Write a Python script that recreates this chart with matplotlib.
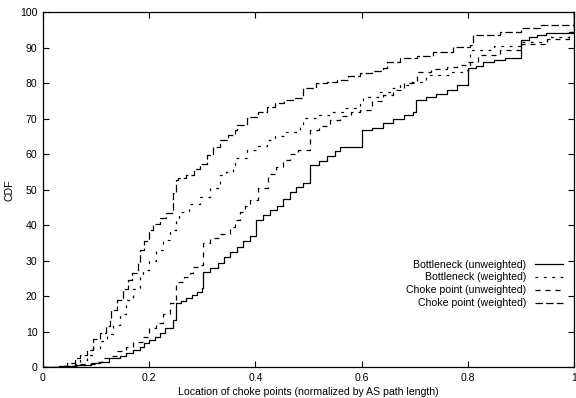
import matplotlib
matplotlib.use("Agg")
import matplotlib.pyplot as plt

plt.rcParams['font.family'] = ['Liberation Sans', 'DejaVu Sans']

# Bottleneck (unweighted)
bu_x = [0, 0.03, 0.06, 0.09, 0.107, 0.125, 0.145, 0.157, 0.17, 0.182, 0.19, 0.2, 0.21, 0.22, 0.23, 0.245,
        0.251, 0.26, 0.27, 0.28, 0.29, 0.3, 0.302, 0.315, 0.33, 0.34, 0.352, 0.365, 0.377, 0.39, 0.402,
        0.415, 0.428, 0.44, 0.452, 0.465, 0.477, 0.49, 0.502, 0.52, 0.535, 0.55, 0.56, 0.6, 0.62, 0.641,
        0.66, 0.68, 0.697, 0.703, 0.722, 0.74, 0.76, 0.78, 0.801, 0.815, 0.828, 0.85, 0.87, 0.901, 0.915,
        0.93, 0.948, 0.998, 1.0]
bu_y = [0, 0.3, 0.6, 1.2, 1.6, 2.5, 3.2, 3.9, 4.8, 5.8, 6.8, 7.8, 8.6, 9.6, 11.0, 13.3,
        18.0, 18.8, 19.6, 20.5, 21.3, 22.2, 26.9, 28.0, 29.5, 31.0, 32.5, 34.0, 35.5, 37.0, 41.5,
        42.8, 44.2, 45.5, 47.5, 49.5, 50.9, 52.0, 57.0, 58.0, 59.5, 61.0, 62.1, 66.8, 67.5, 68.7,
        70.0, 71.0, 72.0, 75.3, 76.2, 77.0, 78.0, 79.5, 84.2, 85.0, 86.1, 86.5, 87.0, 92.2, 93.0,
        93.6, 94.1, 94.1, 100]

# Bottleneck (weighted)
bw_x = [0, 0.04, 0.06, 0.07, 0.082, 0.095, 0.107, 0.12, 0.132, 0.145, 0.157, 0.17, 0.182, 0.188, 0.2,
        0.213, 0.226, 0.239, 0.25, 0.257, 0.275, 0.296, 0.314, 0.333, 0.345, 0.358, 0.362, 0.384, 0.405,
        0.421, 0.437, 0.453, 0.484, 0.49, 0.515, 0.54, 0.565, 0.597, 0.603, 0.63, 0.654, 0.672, 0.691,
        0.722, 0.767, 0.798, 0.804, 0.85, 0.9, 0.95, 0.99, 1.0]
bw_y = [0, 0.3, 1.0, 2.1, 3.5, 5.5, 7.5, 9.5, 12.0, 15.0, 19.0, 22.0, 25.5, 27.4, 30.0,
        33.0, 36.0, 38.7, 41.5, 43.8, 46.0, 48.0, 50.4, 54.2, 55.0, 56.0, 58.9, 61.2, 62.2,
        64.0, 65.2, 66.3, 67.8, 70.2, 71.1, 72.0, 73.0, 74.9, 76.2, 77.5, 78.6, 79.5, 80.5,
        82.3, 83.3, 83.7, 89.4, 90.5, 91.7, 93.0, 94.5, 100]

# Choke point (unweighted)
cu_x = [0, 0.04, 0.07, 0.1, 0.112, 0.126, 0.14, 0.157, 0.17, 0.189, 0.2, 0.213, 0.226, 0.24, 0.251,
        0.265, 0.277, 0.283, 0.296, 0.301, 0.315, 0.333, 0.352, 0.362, 0.371, 0.38, 0.39, 0.405, 0.424,
        0.438, 0.452, 0.465, 0.48, 0.503, 0.52, 0.54, 0.56, 0.58, 0.597, 0.62, 0.641, 0.66, 0.68, 0.704,
        0.73, 0.76, 0.78, 0.8, 0.82, 0.86, 0.9, 0.95, 0.99, 1.0]
cu_y = [0, 0.3, 0.8, 1.6, 2.5, 3.3, 4.5, 5.8, 7.2, 8.6, 11.0, 12.5, 15.0, 18.0, 24.1,
        25.5, 26.5, 28.3, 28.8, 34.9, 36.3, 37.5, 39.6, 41.5, 43.8, 45.5, 47.1, 50.5, 54.4,
        56.5, 58.4, 60.0, 61.2, 66.8, 68.0, 69.7, 70.8, 71.8, 72.5, 75.0, 76.7, 78.0, 80.0, 83.3,
        84.0, 84.7, 85.2, 86.0, 88.0, 89.5, 91.0, 92.5, 94.5, 100]

# Choke point (weighted)
cw_x = [0, 0.03, 0.045, 0.06, 0.07, 0.082, 0.094, 0.107, 0.118, 0.126, 0.129, 0.14, 0.151, 0.16, 0.167,
        0.179, 0.182, 0.19, 0.2, 0.207, 0.22, 0.232, 0.245, 0.25, 0.255, 0.27, 0.285, 0.296, 0.308, 0.32,
        0.333, 0.348, 0.362, 0.365, 0.384, 0.39, 0.405, 0.421, 0.437, 0.453, 0.47, 0.49, 0.515, 0.535,
        0.553, 0.575, 0.597, 0.62, 0.641, 0.647, 0.672, 0.704, 0.735, 0.772, 0.804, 0.81, 0.86, 0.901,
        0.936, 0.995, 1.0]
cw_y = [0, 0.3, 1.1, 2.5, 3.5, 4.9, 7.9, 9.6, 11.5, 13.3, 16.1, 19.0, 22.0, 24.5, 26.5,
        29.3, 33.0, 35.5, 38.7, 40.5, 42.0, 43.4, 49.0, 52.7, 53.2, 54.2, 56.0, 57.4, 59.8, 62.0,
        64.0, 65.5, 66.8, 68.3, 70.2, 70.6, 72.0, 73.4, 74.5, 75.3, 75.8, 78.6, 80.0, 80.5,
        80.9, 82.0, 82.8, 83.5, 84.2, 86.1, 87.0, 87.6, 88.9, 90.3, 90.8, 93.6, 94.5, 95.5,
        96.4, 96.4, 100]

xticks = [0, 0.2, 0.4, 0.6, 0.8, 1]
xticklabels = ["0", "0.2", "0.4", "0.6", "0.8", "1"]
yticks = [0, 10, 20, 30, 40, 50, 60, 70, 80, 90, 100]

fig = plt.figure(figsize=(5.76, 3.98), dpi=100)
ax = fig.add_axes([43 / 576, 1 - 367.3 / 398, 531 / 576, 355 / 398])

lw = 0.9
ax.plot(bu_x, bu_y, drawstyle='steps-post', color='black', lw=lw,
        label='Bottleneck (unweighted)')
ax.plot(bw_x, bw_y, drawstyle='steps-post', color='black', lw=lw,
        dashes=(2.2, 4.5), label='Bottleneck (weighted)')
ax.plot(cu_x, cu_y, drawstyle='steps-post', color='black', lw=lw,
        dashes=(4, 4), label='Choke point (unweighted)')
ax.plot(cw_x, cw_y, drawstyle='steps-post', color='black', lw=lw,
        dashes=(6, 2.5), label='Choke point (weighted)')

ax.set_xlim(0, 1)
ax.set_ylim(0, 100)
ax.set_xticks(xticks)
ax.set_xticklabels(xticklabels)
ax.set_yticks(yticks)
ax.tick_params(direction='in', length=4, width=0.8, labelsize=7.6,
               top=True, right=True, pad=4)
for s in ax.spines.values():
    s.set_linewidth(0.9)

ax.set_xlabel("Location of choke points (normalized by AS path length)", fontsize=7.6, labelpad=3)
ax.set_ylabel("CDF", fontsize=7.6, labelpad=4)

leg = ax.legend(loc='upper right', bbox_to_anchor=(520 / 531, (367.3 - 259.5) / 355),
                frameon=False, markerfirst=False, fontsize=7.6, borderpad=0, borderaxespad=0,
                handlelength=2.7, handletextpad=0.75, labelspacing=0.28)

fig.savefig("out.png", dpi=100)
